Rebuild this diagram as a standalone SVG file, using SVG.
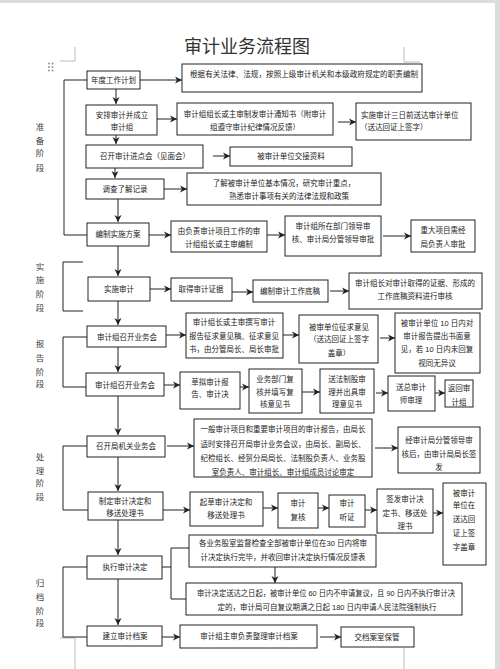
<svg xmlns="http://www.w3.org/2000/svg" width="500" height="669" viewBox="0 0 500 669">
<style>
.b{fill:#fff;stroke:#222;stroke-width:1}
.t{font-family:"Liberation Sans","Noto Sans CJK SC",sans-serif;font-size:7.5px;fill:#222;text-anchor:middle}
.tl{text-anchor:start}
.s{font-family:"Liberation Sans","Noto Sans CJK SC",sans-serif;font-size:8.5px;fill:#444;text-anchor:middle}
.c{stroke:#222;stroke-width:1;fill:none}
.a{marker-end:url(#ah)}
.m{stroke:#aaa;stroke-width:0.8;fill:none}
</style>
<defs>
<marker id="ah" markerUnits="userSpaceOnUse" markerWidth="8" markerHeight="8" refX="7" refY="4" orient="auto">
<path d="M0,0.5 L7,4 L0,7.5 L2,4 Z" fill="#222"/>
</marker>
</defs>
<rect x="0" y="0" width="500" height="669" fill="#dcdcdc"/>
<rect x="0" y="3" width="495" height="666" fill="#fff"/>
<g id="page-marks">
<path class="m" d="M60,61 H75 V47"/>
<path class="m" d="M404,47 V62 H420"/>
<path class="m" d="M60,638 H75 V669"/>
<path class="m" d="M404,648 V669"/>
<g fill="#888"><circle cx="49" cy="63.5" r="0.9"/><circle cx="52.5" cy="63.5" r="0.9"/><circle cx="49" cy="67" r="0.9"/><circle cx="52.5" cy="67" r="0.9"/><circle cx="49" cy="70.5" r="0.9"/><circle cx="52.5" cy="70.5" r="0.9"/></g>
</g>
<text x="247" y="53" font-family="'Noto Sans CJK SC',sans-serif" font-size="18" fill="#333" text-anchor="middle">审计业务流程图</text>
<g id="stage-labels">
<text class="s" x="40" y="130">准</text><text class="s" x="40" y="144">备</text><text class="s" x="40" y="156">阶</text><text class="s" x="40" y="171">段</text>
<text class="s" x="40" y="270">实</text><text class="s" x="40" y="283">施</text><text class="s" x="40" y="297">阶</text><text class="s" x="40" y="311">段</text>
<text class="s" x="40" y="347">报</text><text class="s" x="40" y="361">告</text><text class="s" x="40" y="375">阶</text><text class="s" x="40" y="387">段</text>
<text class="s" x="40" y="460">处</text><text class="s" x="40" y="474">理</text><text class="s" x="40" y="486">阶</text><text class="s" x="40" y="500">段</text>
<text class="s" x="40" y="586">归</text><text class="s" x="40" y="600">档</text><text class="s" x="40" y="614">阶</text><text class="s" x="40" y="626">段</text>
</g>
<g id="connectors">
<path class="c" d="M87,80 H64 V235 H87"/>
<path class="c" d="M83,262 H63 V311 H83"/>
<path class="c" d="M87,337 H63 V387 H86"/>
<path class="c" d="M87,446 H63 V510 H88"/>
<path class="c" d="M87,567 H63 V637 H87"/>
<path class="c a" d="M116,89 V104"/>
<path class="c a" d="M116,135 V144"/>
<path class="c a" d="M115,168 V178"/>
<path class="c a" d="M118,199 V222"/>
<path class="c a" d="M118,246 V276"/>
<path class="c a" d="M118,301 V325"/>
<path class="c a" d="M118,347 V372"/>
<path class="c a" d="M118,396 V435"/>
<path class="c a" d="M118,457 V491"/>
<path class="c a" d="M118,520 V555"/>
<path class="c a" d="M118,579 V625"/>
<path class="c a" d="M140,80 H182"/>
<path class="c a" d="M157,119 H177"/>
<path class="c a" d="M338,122 H356"/>
<path class="c a" d="M213,156 H230"/>
<path class="c a" d="M164,189 H187"/>
<path class="c a" d="M149,235 H171"/>
<path class="c a" d="M267,235 H285"/>
<path class="c a" d="M383,236 H411"/>
<path class="c a" d="M150,289 H171"/>
<path class="c a" d="M232,292 H253"/>
<path class="c a" d="M330,291 H349"/>
<path class="c a" d="M166,335 H186"/>
<path class="c a" d="M283,335 H299"/>
<path class="c a" d="M380,338 H395"/>
<path class="c a" d="M164,385 H180"/>
<path class="c a" d="M240,387 H249"/>
<path class="c a" d="M302,392 H320"/>
<path class="c a" d="M376,393 H388"/>
<path class="c a" d="M435,393 H445"/>
<path class="c a" d="M167,446 H194"/>
<path class="c a" d="M375,448 H398"/>
<path class="c a" d="M163,510 H190"/>
<path class="c a" d="M263,508 H278"/>
<path class="c a" d="M318,508 H329"/>
<path class="c a" d="M365,510 H377"/>
<path class="c a" d="M433,513 H443"/>
<path class="c" d="M162,567 H171"/>
<path class="c" d="M189,548 H171 V599 H186"/>
<path class="c a" d="M275,567 V583"/>
<path class="c a" d="M162,637 H180"/>
<path class="c a" d="M320,637 H341"/>
</g>
<g id="n1"><rect class="b" x="87" y="71" width="53" height="18"/><text class="t" x="113.5" y="83">年度工作计划</text></g>
<g id="n2"><rect class="b" x="182" y="64" width="240" height="28"/><text class="t tl" x="190" y="77" textLength="228" lengthAdjust="spacing">根据有关法律、法规，按照上级审计机关和本级政府规定的职责编制</text></g>
<g id="n3"><rect class="b" x="86" y="105" width="71" height="30"/><text class="t" x="122" y="118">安排审计并成立</text><text class="t" x="122" y="130">审计组</text></g>
<g id="n4"><rect class="b" x="177" y="103" width="156" height="32"/><text class="t" x="255" y="117">审计组组长或主审制发审计通知书（附审计</text><text class="t" x="255" y="130">组遵守审计纪律情况反馈）</text></g>
<g id="n5"><rect class="b" x="356" y="103" width="115" height="37"/><text class="t tl" x="361" y="118">实施审计三日前送达审计单位</text><text class="t tl" x="360" y="130">（送达回证上签字）</text></g>
<g id="n6"><rect class="b" x="86" y="145" width="117" height="23"/><text class="t" x="145" y="159">召开审计进点会（见面会）</text></g>
<g id="n7"><rect class="b" x="230" y="147" width="122" height="19"/><text class="t" x="291" y="159">被审计单位交接资料</text></g>
<g id="n8"><rect class="b" x="86" y="179" width="78" height="20"/><text class="t" x="125" y="192">调查了解记录</text></g>
<g id="n9"><rect class="b" x="187" y="173" width="194" height="32"/><text class="t" x="284" y="186">了解被审计单位基本情况，研究审计重点，</text><text class="t" x="289" y="199">熟悉审计事项有关的法律法规和政策</text></g>
<g id="n10"><rect class="b" x="87" y="223" width="62" height="23"/><text class="t" x="118" y="237">编制实施方案</text></g>
<g id="n11"><rect class="b" x="171" y="221" width="96" height="31"/><text class="t" x="219" y="234">由负责审计项目工作的审</text><text class="t" x="219" y="247">计组组长或主审编制</text></g>
<g id="n12"><rect class="b" x="285" y="216" width="96" height="40"/><text class="t" x="333" y="229">审计组所在部门领导审</text><text class="t" x="333" y="242">核、审计局分管领导审批</text></g>
<g id="n13"><rect class="b" x="411" y="220" width="64" height="32"/><text class="t" x="443" y="233">重大项目需经</text><text class="t" x="443" y="247">局负责人审批</text></g>
<g id="n14"><rect class="b" x="88" y="277" width="62" height="24"/><text class="t" x="119" y="292">实施审计</text></g>
<g id="n15"><rect class="b" x="171" y="278" width="61" height="23"/><text class="t" x="201" y="292">取得审计证据</text></g>
<g id="n16"><rect class="b" x="253" y="280" width="75" height="22"/><text class="t" x="290" y="294">编制审计工作底稿</text></g>
<g id="n17"><rect class="b" x="349" y="273" width="133" height="36"/><text class="t" x="415" y="286">审计组长对审计取得的证据、形成的</text><text class="t" x="415" y="299">工作底稿资料进行审核</text></g>
<g id="n18"><rect class="b" x="87" y="326" width="79" height="21"/><text class="t" x="127" y="340">审计组召开业务会</text></g>
<g id="n19"><rect class="b" x="186" y="313" width="97" height="45"/><text class="t" x="234" y="325">审计组长或主审撰写审计</text><text class="t" x="234" y="339">报告征求意见稿、征求意见</text><text class="t" x="234" y="352">书，由分管局长、局长审批</text></g>
<g id="n20"><rect class="b" x="299" y="315" width="79" height="48"/><text class="t" x="339" y="330">被审单位征求意见</text><text class="t" x="339" y="342">（送达回证上签字</text><text class="t" x="339" y="356">盖章）</text></g>
<g id="n21"><rect class="b" x="395" y="313" width="85" height="60"/><text class="t" x="437" y="326">被审计单位 10 日内对</text><text class="t" x="437" y="339">审计报告提出书面意</text><text class="t" x="437" y="352">见，若 10 日内未回复</text><text class="t" x="437" y="366">视同无异议</text></g>
<g id="n22"><rect class="b" x="86" y="373" width="78" height="23"/><text class="t" x="125" y="388">审计组召开业务会</text></g>
<g id="n23"><rect class="b" x="180" y="372" width="60" height="37"/><text class="t" x="210" y="385">草拟审计报</text><text class="t" x="210" y="397">告、审计决</text></g>
<g id="n24"><rect class="b" x="249" y="369" width="53" height="44"/><text class="t" x="275" y="382">业务部门复</text><text class="t" x="275" y="395">核并填写复</text><text class="t" x="275" y="407">核意见书</text></g>
<g id="n25"><rect class="b" x="320" y="369" width="54" height="44"/><text class="t" x="347" y="382">送法制股审</text><text class="t" x="347" y="395">理并出具审</text><text class="t" x="347" y="407">理意见书</text></g>
<g id="n26"><rect class="b" x="388" y="376" width="47" height="35"/><text class="t" x="411" y="390">送总审计</text><text class="t" x="411" y="403">师审理</text></g>
<g id="n27"><rect class="b" x="445" y="380" width="28" height="27"/><text class="t" x="459" y="391">返回审</text><text class="t" x="459" y="405">计组</text></g>
<g id="n28"><rect class="b" x="87" y="436" width="78" height="21"/><text class="t" x="126" y="449">召开局机关业务会</text></g>
<g id="n29"><rect class="b" x="194" y="419" width="178" height="58"/><text class="t" x="283" y="432">一般审计项目和重要审计项目的审计报告，由局长</text><text class="t" x="283" y="447">适时安排召开局审计业务会议，由局长、副局长、</text><text class="t" x="283" y="461">纪检组长、经贸分局局长、法制股负责人、业务股</text><text class="t" x="283" y="475">室负责人、审计组长、审计组成员讨论审定</text></g>
<g id="n30"><rect class="b" x="398" y="427" width="82" height="46"/><text class="t" x="439" y="443">经审计局分管领导审</text><text class="t" x="439" y="457">核后，由审计局局长签</text><text class="t" x="439" y="470">发</text></g>
<g id="n31"><rect class="b" x="88" y="492" width="75" height="28"/><text class="t" x="125" y="504">制定审计决定和</text><text class="t" x="125" y="516">移送处理书</text></g>
<g id="n32"><rect class="b" x="190" y="492" width="73" height="34"/><text class="t" x="226" y="505">起草审计决定和</text><text class="t" x="226" y="518">移送处理书</text></g>
<g id="n33"><rect class="b" x="278" y="493" width="40" height="35"/><text class="t" x="298" y="506">审计</text><text class="t" x="298" y="520">复核</text></g>
<g id="n34"><rect class="b" x="329" y="495" width="36" height="32"/><text class="t" x="347" y="506">审计</text><text class="t" x="347" y="520">听证</text></g>
<g id="n35"><rect class="b" x="377" y="489" width="56" height="44"/><text class="t" x="405" y="502">签发审计决</text><text class="t" x="405" y="516">定书、移送处</text><text class="t" x="405" y="529">理书</text></g>
<g id="n36"><rect class="b" x="443" y="483" width="43" height="82"/><text class="t" x="464" y="496">被审计</text><text class="t" x="464" y="508">单位在</text><text class="t" x="464" y="522">送达回</text><text class="t" x="464" y="536">证上签</text><text class="t" x="464" y="550">字盖章</text></g>
<g id="n37"><rect class="b" x="87" y="556" width="75" height="23"/><text class="t" x="125" y="570">执行审计决定</text></g>
<g id="n38"><rect class="b" x="189" y="535" width="187" height="32"/><text class="t" x="283" y="546">各业务股室监督检查全部被审计单位在30 日内将审</text><text class="t" x="283" y="560">计决定执行完毕，并收回审计决定执行情况反馈表</text></g>
<g id="n39"><rect class="b" x="186" y="583" width="276" height="32"/><text class="t" x="326" y="596" textLength="258" lengthAdjust="spacingAndGlyphs">审计决定送达之日起，被审计单位 60 日内不申请复议，且 90 日内不执行审计决</text><text class="t" x="327" y="610">定的，审计局可自复议期满之日起 180 日内申请人民法院强制执行</text></g>
<g id="n40"><rect class="b" x="87" y="626" width="75" height="20"/><text class="t" x="125" y="639">建立审计档案</text></g>
<g id="n41"><rect class="b" x="180" y="625" width="137" height="23"/><text class="t" x="249" y="639">审计组主审负责整理审计档案</text></g>
<g id="n42"><rect class="b" x="341" y="627" width="73" height="20"/><text class="t" x="377" y="640">交档案室保管</text></g>
</svg>
